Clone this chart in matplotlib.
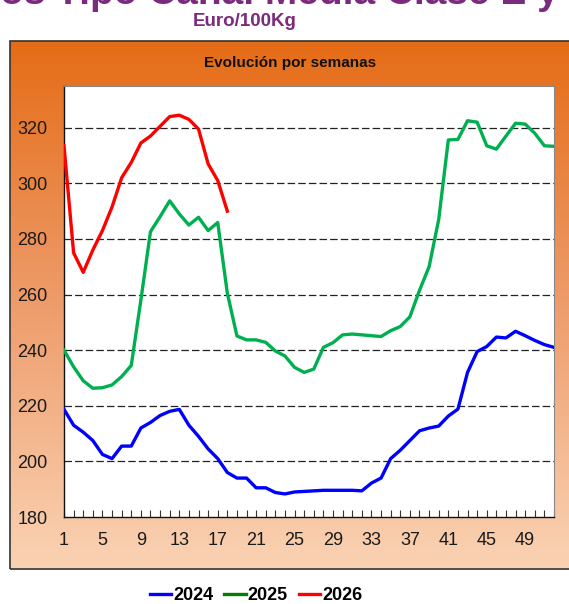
import numpy as np
import matplotlib
matplotlib.use("Agg")
from matplotlib import pyplot as plt
from matplotlib.lines import Line2D
from matplotlib.patches import Rectangle
from matplotlib.colors import LinearSegmentedColormap

plt.rcParams['font.family'] = ['Liberation Sans', 'DejaVu Sans']

# weekly prices, Euro/100Kg
weeks = list(range(1, 53))
p2024 = [218.7, 213.0, 210.5, 207.5, 202.5, 201.0, 205.5, 205.5, 212.0, 214.0,
         216.5, 218.0, 218.7, 213.0, 209.0, 204.5, 201.0, 196.0, 194.0, 194.0,
         190.5, 190.5, 188.8, 188.3, 189.0, 189.2, 189.4, 189.6, 189.6, 189.6,
         189.6, 189.4, 192.2, 194.0, 201.0, 204.0, 207.5, 211.0, 212.0, 212.7,
         216.3, 218.8, 232.0, 239.5, 241.3, 244.7, 244.4, 246.8, 245.2, 243.5,
         242.0, 241.0]
p2025 = [240.0, 234.0, 229.0, 226.3, 226.5, 227.5, 230.5, 234.5, 258.0, 282.6,
         288.0, 293.7, 289.0, 285.0, 287.8, 283.0, 285.9, 260.5, 245.1, 243.7,
         243.7, 242.8, 239.7, 237.9, 233.8, 232.0, 233.2, 241.0, 242.7, 245.5,
         245.8, 245.5, 245.2, 244.9, 247.0, 248.5, 252.0, 261.5, 270.0, 287.0,
         315.6, 315.8, 322.5, 322.0, 313.5, 312.3, 317.0, 321.6, 321.3, 318.0,
         313.5, 313.3]
p2026 = [313.5, 275.0, 268.0, 276.0, 283.0, 291.5, 302.0, 307.5, 314.5, 317.0,
         320.5, 324.0, 324.5, 323.0, 319.5, 307.0, 301.0, 290.0]

yticks = [180, 200, 220, 240, 260, 280, 300, 320]
xlabels = list(range(1, 53, 4))

W, H = 569, 604
fig = plt.figure(figsize=(W / 100, H / 100), dpi=100)

# orange -> peach panel behind the chart
bx0, by0 = 10 / W, 1 - 569 / H
bw, bh = 1.02 - bx0, (569 - 41) / H
bg = fig.add_axes([bx0, by0, bw, bh], zorder=0)
cmap = LinearSegmentedColormap.from_list('panel', ['#E56C16', '#EE9C6C', '#FAD3B4'])
grad = np.linspace(0, 1, 256).reshape(-1, 1)
bg.imshow(grad, aspect='auto', cmap=cmap, extent=[0, 1, 0, 1], origin='upper')
bg.set_axis_off()
fig.patches.append(Rectangle((bx0, by0), bw, bh, transform=fig.transFigure,
                             fill=False, edgecolor='#333333', lw=1.2, zorder=1))

fig.text(251 / W, 1 - 4 / H, 'Precios Tipo Canal Media Clase E y U', ha='center',
         va='baseline', fontsize=28, fontweight='bold', color='#7B2A7D')
fig.text(245 / W, 1 - 26 / H, 'Euro/100Kg', ha='center', va='baseline',
         fontsize=13.5, fontweight='bold', color='#7B2A7D')
fig.text(290 / W, 1 - 67 / H, 'Evolución por semanas', ha='center', va='baseline',
         fontsize=11, fontweight='bold', color='#111111')

ax = fig.add_axes([64 / W, 1 - 517 / H, (554 - 64) / W, (517 - 86) / H], zorder=2)
ax.set_facecolor('white')

for y in yticks[1:]:
    ax.axhline(y, color='#222222', lw=0.9, dashes=(6, 2.5), zorder=1)

ax.plot(weeks, p2024, color='#0000FF', lw=2.4, solid_joinstyle='round', zorder=3)
ax.plot(weeks, p2025, color='#00B050', lw=2.4, solid_joinstyle='round', zorder=3)
ax.plot(weeks[:len(p2026)], p2026, color='#FF0000', lw=2.4, solid_joinstyle='round', zorder=3)

ax.set_xlim(1, 52)
ax.set_ylim(180, 335)
ax.set_yticks(yticks)
ax.set_xticks(weeks)
ax.set_xticklabels([str(w) if w in xlabels else '' for w in weeks])
ax.tick_params(axis='x', direction='in', length=5, width=0.8, color='#333333',
               pad=11, labelsize=13, labelcolor='#1a1a1a')
ax.tick_params(axis='y', length=0, pad=12, labelsize=13, labelcolor='#1a1a1a')

for side in ('top', 'right'):
    ax.spines[side].set_color('#888888')
for side in ('left', 'bottom'):
    ax.spines[side].set_color('#111111')
    ax.spines[side].set_linewidth(1.0)

handles = [Line2D([], [], color='#0000FF', lw=2.4),
           Line2D([], [], color='#008000', lw=2.4),
           Line2D([], [], color='#FF0000', lw=2.4)]
fig.legend(handles, ['2024', '2025', '2026'], loc='center',
           bbox_to_anchor=(256 / W, 1 - 595.5 / H), ncol=3, frameon=False,
           handlelength=1.2, handletextpad=0.1, columnspacing=0.6,
           borderpad=0.1, prop={'weight': 'bold', 'size': 13})

fig.savefig('out.png', dpi=100)
